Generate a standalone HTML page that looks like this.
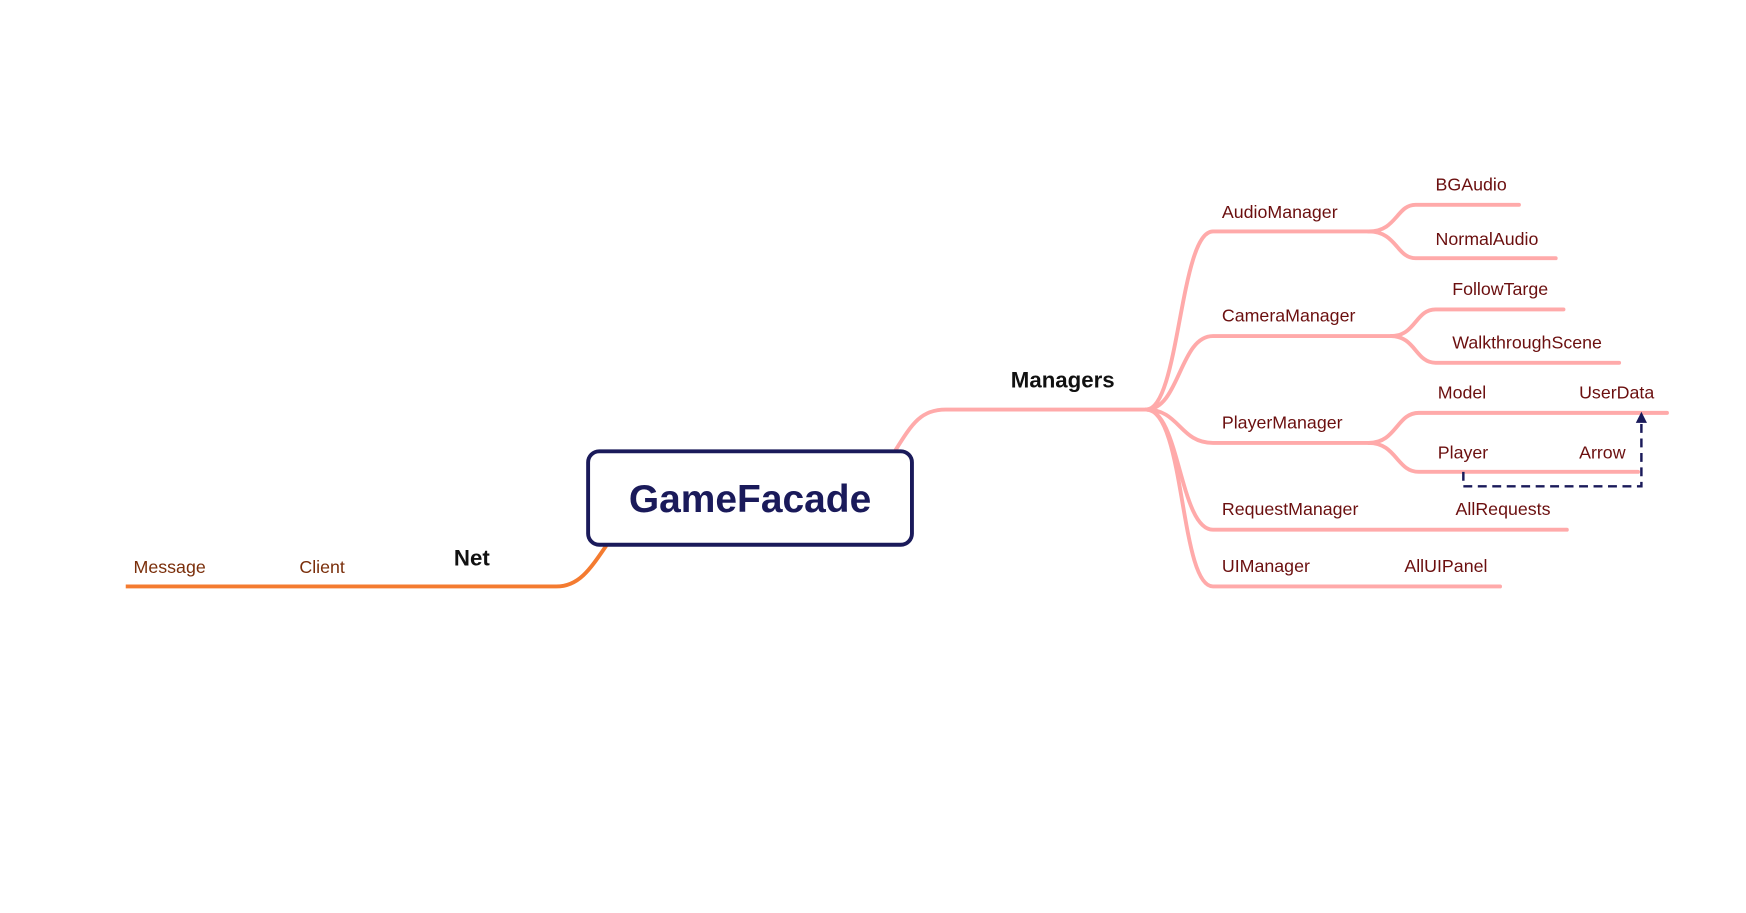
<!DOCTYPE html>
<html><head><meta charset="utf-8"><style>
html,body{margin:0;padding:0;background:#fff;}
svg{display:block;}
text{font-family:"Liberation Sans",Arial,sans-serif;}
</style></head><body>
<svg width="1746" height="913" viewBox="0 0 1569 820.4" xmlns="http://www.w3.org/2000/svg">
<rect width="1570" height="821" fill="#fff"/>
<g fill="none" stroke="#ffaaaa" stroke-width="3.5" stroke-linecap="round">
<path d="M805 404 C820 380 828 368 850 368 L1030 368"/>
<path d="M1030 368 C1060 368 1060 208 1090 208 L1230 208"/>
<path d="M1230 208 C1255 208 1255 184 1272 184 L1365 184"/>
<path d="M1230 208 C1255 208 1255 232 1272 232 L1398 232"/>
<path d="M1030 368 C1060 368 1060 302 1090 302 L1250 302"/>
<path d="M1250 302 C1272 302 1272 278 1290 278 L1405 278"/>
<path d="M1250 302 C1272 302 1272 326 1290 326 L1455 326"/>
<path d="M1030 368 C1060 368 1060 398 1090 398 L1230 398"/>
<path d="M1230 398 C1255 398 1255 371 1275 371 L1498 371"/>
<path d="M1230 398 C1255 398 1255 424 1275 424 L1472 424"/>
<path d="M1030 368 C1060 368 1060 476 1090 476 L1408 476"/>
<path d="M1030 368 C1065 368 1060 527 1090 527 L1348 527"/>
</g>
<path d="M545 490 C530 512 520 527 500 527 L113 527" fill="none" stroke="#f47b30" stroke-width="3.5"/>
<path d="M1315 424 L1315 437 L1475 437 L1475 380" fill="none" stroke="#1a1a5a" stroke-width="2.2" stroke-dasharray="8,5"/>
<path d="M1470 380 L1475 370 L1480 380 Z" fill="#1a1a5a"/>
<rect x="528.5" y="405.5" width="291" height="84" rx="10" fill="#fff" stroke="#1a1a5a" stroke-width="3.5"/>
<text x="674" y="460" text-anchor="middle" font-size="35" font-weight="bold" fill="#1a1a5a">GameFacade</text>
<text x="955" y="348" text-anchor="middle" font-size="20" font-weight="bold" fill="#111">Managers</text>
<text x="424" y="508" text-anchor="middle" font-size="20" font-weight="bold" fill="#111">Net</text>
<g font-size="16" fill="#6b0f0f">
<text x="120" y="515" fill="#7a2e0a">Message</text>
<text x="269" y="515" fill="#7a2e0a">Client</text>
<text x="1098" y="196">AudioManager</text>
<text x="1290" y="171">BGAudio</text>
<text x="1290" y="220">NormalAudio</text>
<text x="1098" y="289">CameraManager</text>
<text x="1305" y="265">FollowTarge</text>
<text x="1305" y="313">WalkthroughScene</text>
<text x="1098" y="385">PlayerManager</text>
<text x="1292" y="358">Model</text>
<text x="1419" y="358">UserData</text>
<text x="1292" y="412">Player</text>
<text x="1419" y="412">Arrow</text>
<text x="1098" y="463">RequestManager</text>
<text x="1308" y="463">AllRequests</text>
<text x="1098" y="514">UIManager</text>
<text x="1262" y="514">AllUIPanel</text>
</g>
</svg>
</body></html>
